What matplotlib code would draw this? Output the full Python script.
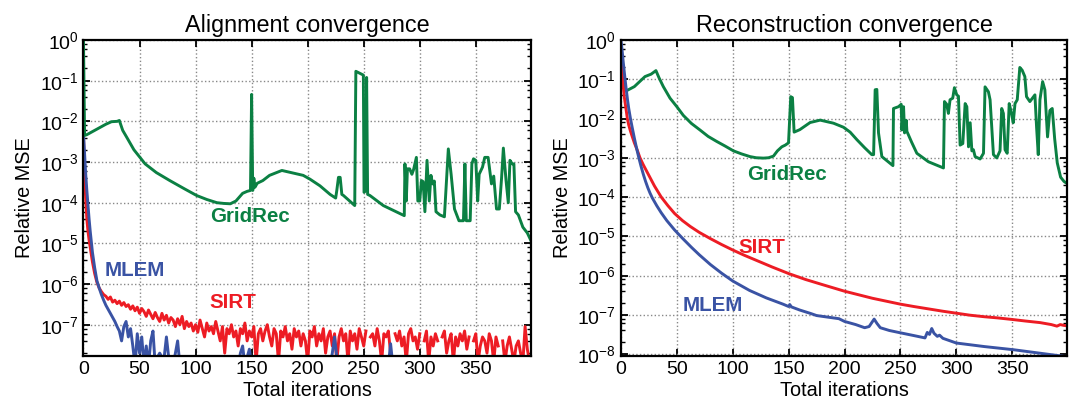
import numpy as np
import matplotlib
matplotlib.use('Agg')
import matplotlib.pyplot as plt
from matplotlib.ticker import LogLocator, FixedLocator, FuncFormatter, NullFormatter

plt.rcParams['font.family'] = ['Liberation Sans', 'DejaVu Sans']
plt.rcParams['mathtext.fontset'] = 'custom'
plt.rcParams['mathtext.rm'] = 'Liberation Sans'
plt.rcParams['mathtext.it'] = 'Liberation Sans:italic'
plt.rcParams['mathtext.bf'] = 'Liberation Sans:bold'

GREEN = '#0b8043'
RED = '#ed1c24'
BLUE = '#3a53a4'

# ---- alignment convergence (left) ----
# (iteration, relative MSE)
align_gridrec = [
    (0, 1.0), (1, 4.5e-3), (3, 4.7e-3), (10, 6e-3), (20, 8.5e-3), (25, 9.8e-3),
    (30, 1.0e-2), (32, 1.05e-2), (35, 6e-3), (38.5, 4.1e-3), (45, 2e-3), (55, 9e-4),
    (65, 5.5e-4), (77, 3.5e-4), (90, 2.2e-4), (101, 1.5e-4), (110, 1.2e-4), (119, 1.0e-4),
    (125, 9.6e-5), (131, 9.4e-5), (136, 1.1e-4), (142, 1.7e-4), (146, 1.9e-4), (149, 2e-4),
    (150, 4.6e-2), (151, 2e-4), (152, 4e-4), (153, 2.4e-4), (155, 3e-4), (160, 3.5e-4),
    (166, 4.7e-4), (177, 6.2e-4), (184, 5.6e-4), (196, 4.7e-4), (202, 3.8e-4), (211, 2.6e-4),
    (220, 1.6e-4), (225, 1.3e-4), (226, 2e-4), (227.5, 4.2e-4), (229, 4.2e-4), (230.5, 1.6e-4),
    (232, 1.5e-4), (242, 8.5e-5), (243, 0.17), (248, 0.145), (249.7, 0.137), (250.3, 1.8e-4),
    (251.8, 2e-4), (252.6, 0.12), (253.5, 1.6e-4), (255.6, 1.5e-4), (267.5, 8.5e-5), (286.2, 4.8e-5),
    (286.8, 9e-4), (288, 1.1e-4), (289, 6.8e-4), (291, 6.8e-4), (293, 5e-4), (294.5, 6.5e-4),
    (297, 1.3e-3), (298.3, 1.1e-4), (300, 1.1e-4), (301.5, 3.5e-4), (303, 3.3e-4), (304.6, 6e-5),
    (306.5, 1.1e-3), (308.5, 1.1e-4), (310, 4.7e-4), (311.5, 2.9e-4), (313, 3.4e-4), (314.5, 6e-5),
    (318, 5e-5), (322, 4.5e-5), (325.5, 2.1e-3), (328, 5e-4), (331, 7e-5), (335, 3.6e-5),
    (339, 3.6e-5), (340.3, 9e-4), (341.5, 3.6e-5), (345, 3.6e-5), (346.5, 9e-4), (348, 1.2e-3),
    (350, 1.1e-3), (351.7, 1.1e-4), (353, 5e-4), (356, 7.5e-4), (358, 1.3e-3), (361, 1.3e-3),
    (364, 2.9e-4), (366, 4.5e-4), (368.5, 7e-5), (371, 7e-5), (373, 4e-4), (374.6, 2.2e-3),
    (377, 3.5e-4), (379, 1e-4), (380.5, 1.1e-3), (382.5, 9e-4), (384, 9e-4), (385.5, 6e-5),
    (388, 5e-5), (392, 2.5e-5), (396, 1.8e-5), (399, 1.2e-5),
]

# first iterations of SIRT / MLEM (steep drop)
align_early_it = [0, 1, 2, 3, 4, 5, 6, 8, 10, 12, 14, 16, 18]
align_sirt_early = [4.5e-3, 5e-4, 1.2e-4, 4e-5, 2e-5, 1.2e-5, 8e-6, 3.5e-6, 1.8e-6, 1.1e-6, 8e-7, 6.5e-7, 5.5e-7]
align_mlem_early = [5e-3, 1.5e-3, 5e-4, 2e-4, 9e-5, 4e-5, 2e-5, 6e-6, 2.5e-6, 1.2e-6, 8e-7, 5.5e-7, 4e-7]

# iterations 20..398 every 2, values in units of 1e-8 (nan = gap in the line)
nan = np.nan
align_sirt_tail = [
    50, 42, 48, 36, 40, 33, 38, 30, 35, 28,
    31, 24, 29, 22, 27, 19, 25, 21, 16, 23,
    18, 14, 20, 15, 12, 19, 13, 17, 11, 15,
    13, 9, 14, 10, 16, 8, 12, 9, 11, 7,
    10, 6.5, 13, 8, 5, 11, 7, 9, 6, 12,
    7, 4, 9, 2, 8, 6, 10, 5, 7, 3,
    8, 6, 11, 4, 7, 5, 9, 1.2, 6, 8,
    4, 7, 10, 5, 3, 8, 6, 1.2, 7, 5,
    9, 4, 6, 2.5, 8, 5, 7, 3, 6, 4,
    1.2, 7, 5, 9, 3, 6, 4, 8, 2, 5,
    7, 3, 6, 1.2, 5, 8, 4, 6, 1.2, 7,
    4, 6, 2.5, 8, 5, 3, 7, nan, 5, 6,
    3, 8, 4, 1.2, 6, 5, 7, 2, nan, 6,
    4, 7, 3, 5, 1.2, 6, 8, 4, 5, 2.5,
    6, nan, 4, 7, 1.2, 5, 3, 6, 4, nan,
    5, 7, 2, 4, 6, 1.2, 5, 3, 6, 4,
    7, 2.5, 5, nan, 4, 6, 1.2, 3, 5, 4,
    2, 6, 4, 1.2, 5, 3, nan, 4, 1.2, 3,
    5, 2.5, 1.2, 3, 4, 2, 1.2, 9, 2.5, 1.2,
]
align_mlem_tail = [
    30, 24, 19, 15, 12, 9, 7, 4, 9, 12,
    5, 8, 3, 1, 6, 2, 5, 1, 3, 1,
    4, 7, 1, 1.6, 2, 1.6, 1.6, 5, 1.6, 1,
    1, 2, 4, 1, 1, 1, 1, 1, 1, 1,
    1, 1, 1, 1, 1, 1, 1, 1, 1, 1,
    1, 1, 1, 1, 1, 1, 1, 1, 1, 1,
    2, 3, 1, 1.6, 2.5, 1, 1, 1, 1, 1,
    1, 1, 1, 1.6, 1.6, 1.6, 1.6, 1.6, 1.6, 1,
    1, 1.6, 1, 1, 1, 1, 1, 1, 1, 1,
    1, 1, 1, 1, 1, 1, 1, 1, 1.6, 1,
    1, 2, 5, 1.6, 1.6, 1.6, 1.6, 1, 1, 1,
    1, 1, 1, 1, 1, 1, 1, 1, 1, 1,
    1, 1, 1, 1, 1, 1, 1, 3.4, 1, 1,
    1, 1, 1, 1, 1, 1, 1, 1, 1, 1,
    1, 1, 1, 1, 1, 1, 1, 1, 1, 1,
    1, 1, 1, 1, 1, 1, 1, 1, 1, 1,
    1, 1, 1, 1, 1, 1, 1, 1, 1, 1,
    1, 1, 1, 1, 1, 1, 1, 1, 1, 1,
    1, 1, 1, 1, 1, 1, 1, 1, 1, 1,
]
align_tail_it = list(range(20, 400, 2))

# ---- reconstruction convergence (right) ----
recon_gridrec = [
    (0, 1.0e-1), (0.6, 9e-2), (5, 5.1e-2), (12, 6.5e-2), (21.5, 0.117), (27, 0.135),
    (31.3, 0.166), (34, 0.11), (37.9, 6.5e-2), (43.9, 3.3e-2), (50, 2e-2), (55.8, 1.2e-2),
    (63, 7.5e-3), (70.7, 5.1e-3), (78, 3.5e-3), (85.7, 2.6e-3), (93, 2e-3), (100.6, 1.5e-3),
    (108, 1.25e-3), (115.5, 1.07e-3), (121, 1e-3), (127.5, 9.8e-4), (132, 1e-3), (136.4, 1.1e-3),
    (140, 1.5e-3), (143.9, 1.9e-3), (147, 2.1e-3), (149.9, 2.4e-3), (151.9, 3.6e-2), (153.4, 3.4e-2),
    (154.9, 4.5e-3), (160, 5.2e-3), (169.2, 7.9e-3), (178.2, 9.1e-3), (190.1, 7.6e-3), (199, 6e-3),
    (205, 4.5e-3), (211, 2.9e-3), (218, 1.8e-3), (224.4, 1.2e-3), (226, 1.2e-3), (227.4, 5.4e-2),
    (228.9, 5.5e-2), (230.4, 4.3e-3), (233.4, 1.07e-3), (243.3, 6.3e-4), (243.8, 1.8e-2), (248.3, 2e-2),
    (250.7, 2.3e-2), (251.3, 5.1e-3), (252.8, 2e-2), (253.7, 4.3e-3), (255.2, 9e-3), (255.8, 4.7e-3),
    (260, 2.5e-3), (264.7, 1.3e-3), (275.1, 7.9e-4), (288.5, 5.5e-4), (289.4, 2.7e-2), (291.4, 2.3e-2),
    (292.9, 1.35e-2), (294.4, 3e-2), (296.8, 3.3e-2), (298.3, 6.1e-2), (300.4, 4e-2), (301.9, 3.7e-2),
    (303.4, 2.1e-3), (305.8, 2.3e-3), (307.9, 2.4e-2), (309.4, 2e-2), (310.9, 1.9e-3), (312.4, 7.8e-3),
    (313.9, 1.5e-3), (315.3, 1.6e-3), (316.8, 1.07e-3), (321.3, 9.3e-4), (324.3, 1.3e-3), (325.7, 6.4e-2),
    (328.7, 4.8e-2), (330.2, 3e-2), (333.2, 1.2e-3), (336.2, 9.9e-4), (339.1, 1.5e-3), (340.6, 1.8e-2),
    (342.1, 1.35e-2), (343.6, 1.6e-3), (345.5, 1.3e-3), (347.3, 2.4e-2), (349.4, 1.35e-2), (350.9, 7.8e-3),
    (352.5, 2.4e-2), (354.5, 3e-2), (356.8, 0.2), (358.9, 0.17), (361.3, 0.117), (362.8, 3.6e-2),
    (365.8, 2.7e-2), (370.3, 4e-2), (371.8, 6e-3), (373.3, 1.2e-3), (374.8, 3e-2), (377.2, 8.7e-2),
    (379.2, 5.4e-2), (381.6, 3.4e-3), (383.7, 1.6e-2), (385.8, 1.8e-2), (388, 3e-3), (390.3, 7.4e-4),
    (393.3, 3.2e-4), (396.3, 2.5e-4), (399, 2.2e-4),
]
# (iteration, log10 relative MSE)
recon_sirt_log = [
    (0, -0.15), (0.5, -0.55), (1, -0.8), (1.5, -1.0), (2, -1.15), (3, -1.45), (4, -1.65),
    (5, -1.85), (5.7, -2.0), (7, -2.17), (8.5, -2.32), (10, -2.45), (12, -2.62), (14.5, -2.8),
    (17, -3.0), (20, -3.18), (25, -3.45), (30, -3.72), (36, -4.0), (42, -4.22), (48, -4.42),
    (55, -4.6), (62, -4.75), (70, -4.9), (80, -5.06), (90, -5.21), (100, -5.35), (110, -5.48),
    (120, -5.6), (135, -5.78), (150, -5.95), (165, -6.1), (180, -6.23), (200, -6.4),
    (225, -6.58), (250, -6.73), (262, -6.79), (275, -6.85), (288, -6.91), (300, -6.96),
    (312, -7.01), (325, -7.05), (337, -7.08), (350, -7.12), (362, -7.16), (375, -7.2),
    (385, -7.25), (390, -7.29), (393, -7.25), (396, -7.27), (399, -7.28),
]
recon_mlem_log = [
    (0, 0.0), (1, -0.25), (2, -0.55), (3, -0.82), (3.5, -0.95), (4.5, -1.2), (6, -1.55),
    (7, -1.75), (8.5, -2.0), (10, -2.22), (12, -2.5), (14, -2.76), (16, -3.0), (18, -3.22),
    (20, -3.42), (22, -3.6), (24, -3.76), (26, -3.9), (28, -4.02), (32, -4.22), (36, -4.4),
    (41, -4.6), (48, -4.84), (55, -5.05), (63, -5.28), (70, -5.47), (80, -5.72), (90, -5.94),
    (100, -6.14), (115, -6.38), (130, -6.57), (145, -6.73), (150, -6.79), (151, -6.74),
    (152.5, -6.8), (160, -6.88), (170, -6.97), (175, -7.02), (180, -7.04), (185, -7.06),
    (190, -7.08), (195, -7.1), (200, -7.17), (210, -7.25), (218, -7.33), (222, -7.3),
    (226.5, -7.11), (229, -7.22), (232, -7.33), (240, -7.4), (250, -7.46), (262, -7.53),
    (272, -7.59), (274, -7.45), (276, -7.5), (278, -7.35), (280, -7.47), (283, -7.55),
    (285, -7.52), (288, -7.6), (300, -7.72), (325, -7.81), (351, -7.89), (375, -7.98),
    (399, -8.07),
]

x_ticks = [0, 50, 100, 150, 200, 250, 300, 350]
align_decades = [0, -1, -2, -3, -4, -5, -6, -7]
recon_decades = [0, -1, -2, -3, -4, -5, -6, -7, -8]


def sci(v, pos):
    return r'$\mathregular{10^{%d}}$' % int(round(np.log10(v)))


def style(ax, ymin, decades):
    ax.set_yscale('log')
    ax.set_xlim(0, 399)
    ax.set_ylim(ymin, 1)
    ax.set_xticks(x_ticks)
    ax.yaxis.set_major_locator(FixedLocator([10.0 ** d for d in decades]))
    ax.yaxis.set_minor_locator(LogLocator(base=10, subs=[2, 4, 6, 8], numticks=20))
    ax.yaxis.set_major_formatter(FuncFormatter(sci))
    ax.yaxis.set_minor_formatter(NullFormatter())
    ax.tick_params(which='both', direction='in', top=True, right=True, labelsize=14)
    ax.tick_params(which='major', length=5, width=1.3)
    ax.tick_params(which='minor', length=3, width=1.0)
    ax.grid(True, which='major', linestyle=':', color='#888888', linewidth=1.0)
    for s in ax.spines.values():
        s.set_linewidth(1.6)
    ax.set_xlabel('Total iterations', fontsize=14.3, labelpad=2)
    ax.set_ylabel('Relative MSE', fontsize=14.3)


fig = plt.figure(figsize=(10.73, 4.07), dpi=100)
ax1 = fig.add_axes([0.0778, 0.1253, 0.4168, 0.7764])
ax2 = fig.add_axes([0.5787, 0.1253, 0.4157, 0.7764])

lw = 2.1
gx, gy = zip(*align_gridrec)
ax1.plot(align_early_it + align_tail_it, align_sirt_early + [v * 1e-8 for v in align_sirt_tail], color=RED, lw=lw)
ax1.plot(align_early_it + align_tail_it, align_mlem_early + [v * 1e-8 for v in align_mlem_tail], color=BLUE, lw=lw)
ax1.plot(gx, gy, color=GREEN, lw=lw)
style(ax1, 1.7e-8, align_decades)
ax1.set_title('Alignment convergence', fontsize=16.8, pad=6)

rx, ry = zip(*recon_gridrec)
sx, sl = zip(*recon_sirt_log)
mx, ml = zip(*recon_mlem_log)
ax2.plot(rx, ry, color=GREEN, lw=lw)
ax2.plot(sx, 10.0 ** np.array(sl), color=RED, lw=lw)
ax2.plot(mx, 10.0 ** np.array(ml), color=BLUE, lw=lw)
style(ax2, 8.9e-9, recon_decades)
ax2.set_title('Reconstruction convergence', fontsize=16.8, pad=6)

lab = dict(fontsize=14.8, fontweight='bold', ha='center', va='center')
ax1.text(0.372, 0.440, 'GridRec', color=GREEN, transform=ax1.transAxes, **lab)
ax1.text(0.115, 0.271, 'MLEM', color=BLUE, transform=ax1.transAxes, **lab)
ax1.text(0.333, 0.169, 'SIRT', color=RED, transform=ax1.transAxes, **lab)
ax2.text(0.372, 0.574, 'GridRec', color=GREEN, transform=ax2.transAxes, **lab)
ax2.text(0.317, 0.343, 'SIRT', color=RED, transform=ax2.transAxes, **lab)
ax2.text(0.205, 0.159, 'MLEM', color=BLUE, transform=ax2.transAxes, **lab)

fig.savefig('out.png', dpi=100)
